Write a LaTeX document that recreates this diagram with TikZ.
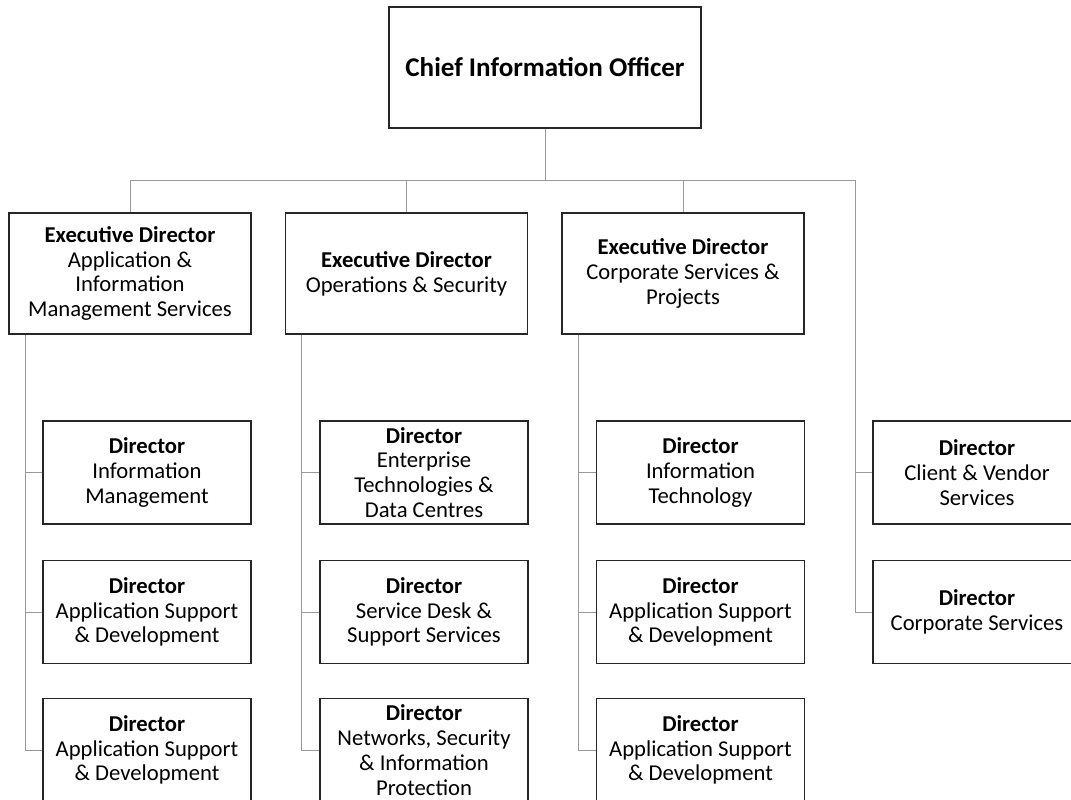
\documentclass[tikz,border=0pt]{standalone}
\usepackage{fontspec}
\setmainfont{Carlito}
\usepackage{tikz}

\tikzset{
  unit/.style      = {draw=black!85, line width=0.8pt, align=center, inner sep=0pt,
                      font=\fontsize{12.9}{14.1}\selectfont},
  chiefbox/.style  = {unit, minimum width=6.24cm, minimum height=2.42cm,
                      font=\fontsize{15.4}{18}\selectfont\bfseries},
  execbox/.style   = {unit, minimum width=4.84cm, minimum height=2.42cm},
  dirbox/.style    = {unit, minimum width=4.16cm, minimum height=2.06cm},
  link/.style      = {draw=black!40, line width=0.55pt},
}

\begin{document}
\begin{tikzpicture}[x=0.02cm, y=-0.02cm]
    \useasboundingbox (0, 0) rectangle (1071, 799);
    \clip             (0, 0) rectangle (1071, 799);
    % CIO
    \node [chiefbox] (cio) at (545, 67.5) {Chief Information Officer};
    % executive directors
    \node [execbox]  (e1)  at (130, 273.5)   {\textbf{Executive Director}\\Application \&\\Information\\Management Services};
    \node [execbox]  (e2)  at (406.5, 273.5) {\textbf{Executive Director}\\Operations \& Security};
    \node [execbox]  (e3)  at (683, 273.5)   {\textbf{Executive Director}\\Corporate Services \&\\Projects};
    % directors under e1
    \node [dirbox]   (d11) at (147, 472.5) {\textbf{Director}\\Information\\Management};
    \node [dirbox]   (d12) at (147, 612)   {\textbf{Director}\\Application Support\\\& Development};
    \node [dirbox]   (d13) at (147, 750)   {\textbf{Director}\\Application Support\\\& Development};
    % directors under e2
    \node [dirbox]   (d21) at (424, 472.5) {\textbf{Director}\\Enterprise\\Technologies \&\\Data Centres};
    \node [dirbox]   (d22) at (424, 612)   {\textbf{Director}\\Service Desk \&\\Support Services};
    \node [dirbox]   (d23) at (424, 750)   {\textbf{Director}\\Networks, Security\\\& Information\\Protection};
    % directors under e3
    \node [dirbox]   (d31) at (700.5, 472.5) {\textbf{Director}\\Information\\Technology};
    \node [dirbox]   (d32) at (700.5, 612)   {\textbf{Director}\\Application Support\\\& Development};
    \node [dirbox]   (d33) at (700.5, 750)   {\textbf{Director}\\Application Support\\\& Development};
    % directors reporting to the CIO
    \node [dirbox]   (d41) at (977, 472.5) {\textbf{Director}\\Client \& Vendor\\Services};
    \node [dirbox]   (d42) at (977, 612)   {\textbf{Director}\\Corporate Services};

    % top bus
    \coordinate (bus)    at (545, 180);
    \coordinate (spine4) at (855, 180);
    \draw [link]     (cio.south) -- (bus);
    \draw [link]     (bus) -| (e1.north);
    \draw [link]     (bus) -| (e2.north);
    \draw [link]     (bus) -| (e3.north);
    \draw [link]     (bus) -- (spine4) |- (d41.west);
    \draw [link]     (spine4) |- (d42.west);
    % spines below the executive directors
    \foreach \e in {1, 2, 3} {
      \coordinate (s\e) at ([xshift=0.34cm]e\e.south west);
      \draw [link]   (s\e) |- (d\e3.west);
      \draw [link]   (s\e) |- (d\e1.west);
      \draw [link]   (s\e) |- (d\e2.west);
    }
\end{tikzpicture}
\end{document}
